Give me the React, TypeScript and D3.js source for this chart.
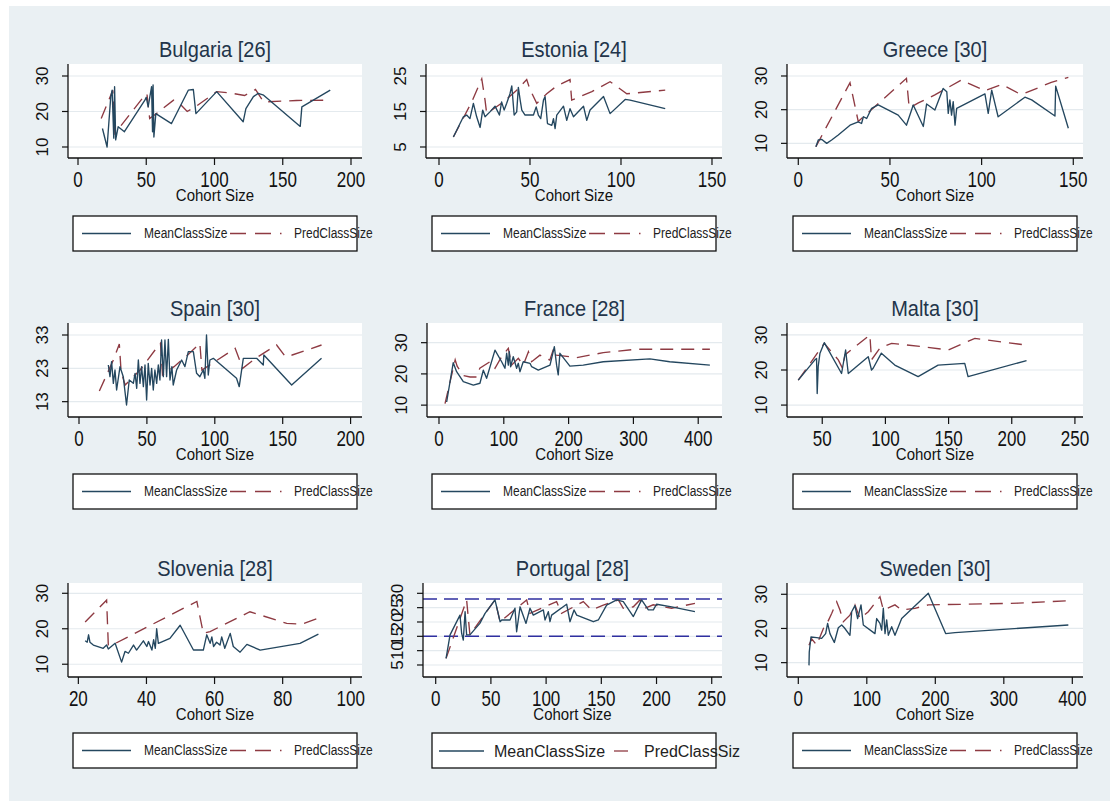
import React from 'react';
import * as d3 from 'd3';

type Pt = [number, number];

// ---------- data (cohort size, class size) ----------
const bulgariaMean: Pt[] = [[17.9,15.2],[21.3,10],[24,24.2],[25,26],[26.2,12.5],[26.8,27],[27.6,12],[29.4,15.7],[34,14.3],[49,23.2],[50,24],[51.4,21.3],[53.9,27],[54.6,14.3],[55,27.5],[55.6,12.8],[57,19.4],[68.5,16.6],[80.8,26],[84.5,26.2],[86.4,19.4],[101.6,25.6],[121,17.1],[123,20.8],[128.5,24.2],[132,25.1],[136,24.6],[162.8,15.8],[164,21.3],[184.8,26]];
const bulgariaPred: Pt[] = [[17,18],[25.5,26],[27,13.8],[49,24.6],[50.5,25],[52.5,18],[56,19],[70,23.2],[75,22],[80,20],[86,21.3],[101.6,25.6],[112,25.2],[122,24.5],[130,26.2],[136,22.7],[160,23.1],[185,23.2]];

const estoniaMean: Pt[] = [[7.9,7.8],[13.4,13.5],[15.2,14],[17,13],[18.9,17.3],[20.7,13.5],[22.6,10.5],[24,15.4],[25.3,13.5],[28,14.9],[30.8,16.5],[33.2,14],[34.4,17.7],[35.8,15.4],[37.2,17.3],[39,20],[40,22.2],[41.3,14],[42.7,14.9],[43.6,21.8],[44.6,18.2],[45.5,15.4],[47.3,14],[51.9,14],[53.4,16.3],[54.6,14],[55.9,13],[57.4,18.2],[58.3,19.2],[59.6,11.6],[62,11.1],[62.9,13],[63.8,10.2],[64.7,14],[68.4,16.5],[70.2,12.5],[72,15.8],[73.9,13.5],[79.4,16.5],[81.2,12.5],[83,15.4],[90.4,19.2],[94,14.4],[102.3,18.4],[105,18.2],[124.3,15.8]];
const estoniaPred: Pt[] = [[7.9,7.8],[18,17.7],[23.5,24.2],[25.3,18.2],[26.2,14.4],[35.4,17.7],[42.7,21],[48.2,24],[50,21.2],[53.7,17.3],[59.2,20],[64.7,22.2],[72,24],[72.9,18.2],[84,20.6],[94,23.4],[103.2,20],[124.3,21]];

const greeceMean: Pt[] = [[9.6,9],[10.9,11],[12.7,11.2],[15.5,10],[18.2,11],[21.8,12.5],[28.2,15.4],[32.7,16.4],[34.5,15.9],[35.5,17.9],[37.3,17.4],[40,20.4],[43.6,21.4],[54.5,18.4],[59,15.4],[62.7,21.4],[68.2,15],[70,21.7],[74.5,19.9],[79,26.3],[81,25.3],[81.8,18.9],[82.7,22.9],[83.6,18.4],[84.5,22.4],[85.5,15.4],[86.4,20.4],[101.8,24.7],[103.6,18.9],[105.5,25.8],[109,17.9],[123.6,23.7],[127.3,22.9],[140,18.1],[140.4,27],[147.3,14.5]];
const greecePred: Pt[] = [[9.6,9],[28.2,28],[32.7,16.5],[59,29.3],[60.5,20.5],[65.5,22],[74.5,24.4],[89,28.8],[101.8,25.6],[111,27.5],[121,24.6],[123.6,24.9],[138,28.1],[147.3,29.6]];

const spainMean: Pt[] = [[21.6,24],[22.8,20.5],[24,25],[25.3,18.5],[26.5,22.5],[27.7,16.5],[30.2,23.5],[32.6,20.5],[35,12],[37,19.5],[40,18.5],[41.3,21.5],[42.5,17],[43.7,25.5],[44.9,18.5],[46.1,23.5],[47.4,17.5],[48.6,24],[49.8,13.5],[51,24.5],[52.3,18],[53.5,23],[54.7,16.5],[55.9,22.5],[57.2,18.5],[58.4,24],[59.6,19.5],[60.8,31.5],[62.1,20.5],[63.3,31.5],[64.5,20.5],[65.8,31.7],[67,19.5],[68.4,23.5],[69.4,18],[71.9,22.5],[75.6,25.5],[78,23.5],[80.5,28],[84.2,28],[86.6,21.5],[89,20.5],[91.5,22.5],[92.7,20],[93.9,33],[95.2,21],[96.4,25.5],[98.9,26],[116,20],[118,17.5],[121,26],[130.8,26],[135.7,24],[136.1,27],[156.6,18],[178.6,26]];
const spainPred: Pt[] = [[15,16.2],[25.3,25.5],[29.7,30.3],[31,22],[34,18],[45,22.5],[56,28.5],[60,30.5],[61.5,21],[70,23.5],[80,27],[89,30.5],[90.5,22.5],[100,25],[115,29],[120.5,23],[130,26],[145.5,30],[152,26.5],[157,27],[178.6,30]];

const franceMean: Pt[] = [[11.8,11],[22,23.6],[27.2,20.7],[37.5,17.5],[53,16.4],[63.2,17],[68.4,21.2],[73.5,18.6],[86.4,27.6],[96.7,23.9],[101.8,21.8],[104.4,26.6],[107,22.8],[108.5,27.1],[110.5,22.3],[114.6,25.5],[119.8,21.8],[122.4,23.4],[124.9,20.7],[130,23.9],[140.4,23.4],[143,22.3],[153.2,21.2],[171.3,22.8],[178,28.7],[181.5,22.8],[184,19.7],[186.6,26.6],[202,22.5],[222.6,22.8],[253.5,23.9],[325.4,24.8],[356,23.9],[418,22.8]];
const francePred: Pt[] = [[9.3,10.5],[25,24.5],[28,22.5],[37.5,19.5],[48,19],[58,19],[63,21.8],[78.7,23.9],[86.4,21.8],[96.7,25.5],[107,28.2],[112,22.8],[122.4,25],[130,22.8],[138,27.1],[143,23.9],[155.8,26],[171,24.4],[177,28.2],[181.5,26],[202,25.5],[212,25.2],[253.5,26.8],[305,27.9],[418,27.9]];

const maltaMean: Pt[] = [[31,17.1],[44.2,22.9],[45.5,23.3],[46,13.3],[46.8,21],[48.2,24.8],[51.6,27.8],[65.3,19],[68.5,25.7],[70.6,19],[86.4,23.8],[89,20],[90.3,20.5],[96.8,24.8],[107.4,21.4],[125.9,18.1],[141.7,21.4],[162.8,21.9],[165.4,18.1],[211.7,22.7]];
const maltaPred: Pt[] = [[31,17.1],[51.6,27.6],[62.7,22.9],[66,20.5],[68,24.3],[87.7,30],[89,22.9],[95.6,26.2],[104.9,27.6],[128.6,26.7],[149.7,25.7],[170.8,29],[211.7,27.1]];

const sloveniaMean: Pt[] = [[22,16.6],[22.6,16.2],[23,18.3],[23.4,16.2],[24.4,15.4],[27.3,14.5],[28.3,15.4],[28.8,14.3],[30.8,15.9],[32.7,10.6],[33.7,13.6],[34.7,13.1],[36.2,15.4],[37.1,14],[39.1,16.6],[40.1,15],[40.6,16.4],[41.6,14],[42.1,16.9],[42.6,14.5],[43,20],[43.5,15.9],[46.9,17.3],[49.9,21],[53.8,14],[56.7,14],[57.7,18.3],[58.7,15.9],[59.2,17.7],[59.7,15],[60.6,16.2],[61.6,15.4],[62.1,17.7],[63,14.5],[64.6,18.7],[65.5,15],[67.5,13.4],[69.5,15.6],[73.4,14],[85.1,15.9],[90.5,18.5]];
const sloveniaPred: Pt[] = [[22,21.9],[27.9,27.7],[28.3,28.1],[28.8,15.4],[30.3,15.6],[54.8,27.7],[56.7,18.7],[58.7,19.2],[61.6,20.6],[70.4,24.8],[81.2,21.5],[85.6,21.3],[90.5,23]];

const portugalMean: Pt[] = [[9.4,7.3],[13,15.5],[22,22.4],[23.5,16],[25,13.7],[26.6,23.6],[28,15.5],[31,15.5],[40,19.5],[44.7,23],[53.7,27.7],[58.3,20.1],[59.8,20.7],[67.3,20.7],[71.8,24.8],[73.3,16.6],[76.4,25.3],[81.8,19.5],[85.4,24.8],[88.4,22.4],[97.5,24.2],[99,20.7],[102,23.6],[103.5,20.1],[105,22.4],[118.6,26.2],[121.6,20.1],[125.3,24.2],[127.7,22.4],[135.2,21.3],[142.8,20.1],[147.3,20.7],[154.8,25.9],[163.9,27.7],[169.9,27.1],[179,21.9],[186.5,27.7],[192.6,24.2],[197.1,24.2],[200,26.2],[213.7,25.3],[234.8,23.6]];
const portugalPred: Pt[] = [[9.4,7.3],[28,27.7],[31,15.5],[53.7,27.7],[58.3,20.1],[82.4,27.7],[85.4,23],[109.5,27.1],[114,23],[133.7,27.1],[141,24.2],[151.8,25.9],[165.4,27.7],[169.9,24.8],[179,25.3],[185,27.7],[189.6,24.8],[197,26],[213.7,24.8],[234.8,26.5]];
const portugalRefLines = [28, 15];

const swedenMean: Pt[] = [[15.6,9.2],[16,13.1],[18.5,17.5],[26.8,17.3],[34.1,17.1],[39.9,18.5],[42.8,21.5],[46.2,18.5],[52.6,15.9],[58.4,20.2],[63.3,21],[67.2,20.2],[75.4,18],[77.9,24.9],[82.7,26.7],[86.6,22.9],[91.5,26.9],[94.9,21],[111.9,18.5],[114.4,22.9],[119.2,21.5],[121.7,19.5],[124.1,25.9],[126.6,18.5],[129,22.5],[131.4,18],[136.3,20.5],[141.1,18],[150.9,22.9],[189.8,30.3],[215.1,18.5],[228.7,18.8],[394.2,21]];
const swedenPred: Pt[] = [[15.6,15.1],[19.5,17],[26.8,15.1],[38.7,21],[42,21.5],[48.7,24.4],[56,27.8],[60.8,25.4],[65.7,22],[75.4,23.9],[82.7,26.9],[90,22.9],[102.2,24.9],[119.2,29.3],[124.1,25.4],[141.1,26.9],[150.9,25.4],[170.3,25.9],[189.8,26.9],[248.2,27.1],[321,27.4],[394.2,28.1]];

const panelTitles = ['Bulgaria [26]', 'Estonia [24]', 'Greece [30]', 'Spain [30]', 'France [28]', 'Malta [30]', 'Slovenia [28]', 'Portugal [28]', 'Sweden [30]'];
const xTicks0to200 = [0, 50, 100, 150, 200];
const xTicks0to150 = [0, 50, 100, 150];
const xTicks0to400 = [0, 100, 200, 300, 400];
const xTicks50to250 = [50, 100, 150, 200, 250];
const xTicks20to100 = [20, 40, 60, 80, 100];
const xTicks0to250 = [0, 50, 100, 150, 200, 250];
const yTicks102030 = [10, 20, 30];
const yTicksEstonia = [5, 15, 25];
const yTicksSpain = [13, 23, 33];
const yTicksPortugal = [5, 10, 15, 20, 25, 30];
const xAxisTitle = 'Cohort Size';
const legendLabels = ['MeanClassSize', 'PredClassSize'];

// ---------- layout ----------
const rowTop = [64, 323, 583];
const rowBottom = [158, 417, 677];
const legendTop = [216, 474, 733];
const legendLeft = [73, 432, 793];

interface Panel {
  mean: Pt[]; pred: Pt[]; xTicks: number[]; yTicks: number[];
  xDom: [number, number]; yDom: [number, number]; l: number; r: number;
  refLines?: number[]; bigLegend?: boolean;
}

const panels: Panel[] = [
  { mean: bulgariaMean, pred: bulgariaPred, xTicks: xTicks0to200, yTicks: yTicks102030, xDom: [-7.33, 208.06], yDom: [6.9, 33.38], l: 68, r: 362 },
  { mean: estoniaMean, pred: estoniaPred, xTicks: xTicks0to150, yTicks: yTicksEstonia, xDom: [-7.14, 155.5], yDom: [1.9, 28.38], l: 426, r: 722 },
  { mean: greeceMean, pred: greecePred, xTicks: xTicks0to150, yTicks: yTicks102030, xDom: [-6.16, 155.3], yDom: [5.65, 33.56], l: 787, r: 1083 },
  { mean: spainMean, pred: spainPred, xTicks: xTicks0to200, yTicks: yTicksSpain, xDom: [-8.1, 208.4], yDom: [8.4, 36.6], l: 68, r: 362 },
  { mean: franceMean, pred: francePred, xTicks: xTicks0to400, yTicks: yTicks102030, xDom: [-18.5, 436.7], yDom: [6.2, 36.3], l: 427, r: 722 },
  { mean: maltaMean, pred: maltaPred, xTicks: xTicks50to250, yTicks: yTicks102030, xDom: [22.1, 256.4], yDom: [6.6, 33.4], l: 787, r: 1083 },
  { mean: sloveniaMean, pred: sloveniaPred, xTicks: xTicks20to100, yTicks: yTicks102030, xDom: [16.96, 103.3], yDom: [6.4, 32.9], l: 68, r: 362 },
  { mean: portugalMean, pred: portugalPred, xTicks: xTicks0to250, yTicks: yTicksPortugal, xDom: [-11.5, 259.3], yDom: [0.81, 33.6], l: 423, r: 722, refLines: portugalRefLines, bigLegend: true },
  { mean: swedenMean, pred: swedenPred, xTicks: xTicks0to400, yTicks: yTicks102030, xDom: [-16.5, 415.6], yDom: [5.8, 33.3], l: 787, r: 1083 },
];

const FONT = '"Liberation Sans", Arial, sans-serif';
const BG = '#eaf0f3';
const MEAN_COLOR = '#24475f';
const PRED_COLOR = '#8e3a42';
const GRID = '#e4eaee';

function SText({ x, y, sy = 1, size, fill = '#111', anchor = 'middle', children }: { x: number; y: number; sy?: number; size: number; fill?: string; anchor?: string; children: React.ReactNode }) {
  return (
    <text transform={`translate(${x},${y}) scale(1,${sy})`} textAnchor={anchor} fontFamily={FONT} fontSize={size} fill={fill}>{children}</text>
  );
}

function PanelView({ p, i }: { p: Panel; i: number }) {
  const row = Math.floor(i / 3);
  const col = i % 3;
  const t = rowTop[row];
  const b = rowBottom[row];
  const xs = d3.scaleLinear().domain(p.xDom).range([p.l, p.r]);
  const ys = d3.scaleLinear().domain(p.yDom).range([b, t]);
  const line = d3.line<Pt>().x(d => xs(d[0])).y(d => ys(d[1]));
  const cx = (p.l + p.r) / 2;
  const lx = legendLeft[col];
  const ly = legendTop[row];
  const clipId = `clip-panel-${i}`;
  const panelClipLeft = col === 0 ? 0 : col === 1 ? 378 : 740;
  const panelClipRight = col === 0 ? 378 : col === 1 ? 740 : 1110;
  return (
    <g>
      <defs>
        <clipPath id={clipId}>
          <rect x={panelClipLeft} y={ly - 10} width={panelClipRight - panelClipLeft} height={60} />
        </clipPath>
      </defs>
      <SText x={cx} y={t - 7} sy={1.08} size={20} fill="#22344a">{panelTitles[i]}</SText>
      <rect x={p.l} y={t} width={p.r - p.l} height={b - t} fill="#ffffff" />
      {p.yTicks.map(v => (
        <line key={'g' + v} x1={p.l} x2={p.r} y1={ys(v)} y2={ys(v)} stroke={GRID} strokeWidth={1.2} />
      ))}
      {(p.refLines || []).map(v => (
        <line key={'r' + v} x1={p.l} x2={p.r} y1={ys(v)} y2={ys(v)} stroke="#2f2fa0" strokeWidth={1.4} strokeDasharray="14 7" />
      ))}
      <path d={line(p.pred) || ''} fill="none" stroke={PRED_COLOR} strokeWidth={1.35} strokeDasharray="13 8" />
      <path d={line(p.mean) || ''} fill="none" stroke={MEAN_COLOR} strokeWidth={1.35} strokeLinejoin="round" />
      <line x1={p.l} x2={p.l} y1={t} y2={b} stroke="#111" strokeWidth={1.3} />
      <line x1={p.l} x2={p.r} y1={b} y2={b} stroke="#111" strokeWidth={1.3} />
      {p.yTicks.map(v => (
        <g key={'y' + v}>
          <line x1={p.l - 6} x2={p.l} y1={ys(v)} y2={ys(v)} stroke="#111" strokeWidth={1.2} />
          <text transform={`translate(${p.l - 20},${ys(v)}) rotate(-90)`} textAnchor="middle" fontFamily={FONT} fontSize={17} fill="#111">{v}</text>
        </g>
      ))}
      {p.xTicks.map(v => (
        <g key={'x' + v}>
          <line x1={xs(v)} x2={xs(v)} y1={b} y2={b + 7} stroke="#111" strokeWidth={1.2} />
          <SText x={xs(v)} y={b + 29} sy={1.25} size={17}>{v}</SText>
        </g>
      ))}
      <SText x={cx} y={b + 43} sy={1.12} size={15}>{xAxisTitle}</SText>
      <g clipPath={`url(#${clipId})`}>
        <rect x={lx} y={ly} width={284} height={35} fill="#ffffff" stroke="#111" strokeWidth={1.3} />
        {p.bigLegend ? (
          <>
            <line x1={lx + 7} x2={lx + 52} y1={ly + 18} y2={ly + 18} stroke={MEAN_COLOR} strokeWidth={1.3} />
            <SText x={lx + 62} y={ly + 24} sy={1.08} size={16} fill="#222" anchor="start">{legendLabels[0]}</SText>
            <line x1={lx + 182} x2={lx + 196} y1={ly + 18} y2={ly + 18} stroke={PRED_COLOR} strokeWidth={1.3} />
            <SText x={lx + 212} y={ly + 24} sy={1.08} size={16} fill="#222" anchor="start">{legendLabels[1].slice(0, 12)}</SText>
          </>
        ) : (
          <>
            <line x1={lx + 9} x2={lx + 58} y1={ly + 17.5} y2={ly + 17.5} stroke={MEAN_COLOR} strokeWidth={1.3} />
            <SText x={lx + 71} y={ly + 22} sy={1.15} size={12} fill="#222" anchor="start">{legendLabels[0]}</SText>
            <line x1={lx + 157} x2={lx + 210} y1={ly + 17.5} y2={ly + 17.5} stroke={PRED_COLOR} strokeWidth={1.3} strokeDasharray="16 9 16 9 1.5 20" />
            <SText x={lx + 221} y={ly + 22} sy={1.15} size={12} fill="#222" anchor="start">{legendLabels[1]}</SText>
          </>
        )}
      </g>
    </g>
  );
}

export default function App() {
  return (
    <svg width={1110} height={801} style={{ position: 'absolute', left: 0, top: 0, display: 'block' }}>
      <rect x={0} y={0} width={1110} height={801} fill="#ffffff" />
      <rect x={9} y={6} width={1101} height={795} fill={BG} />
      {panels.map((p, i) => <PanelView key={i} p={p} i={i} />)}
    </svg>
  );
}
